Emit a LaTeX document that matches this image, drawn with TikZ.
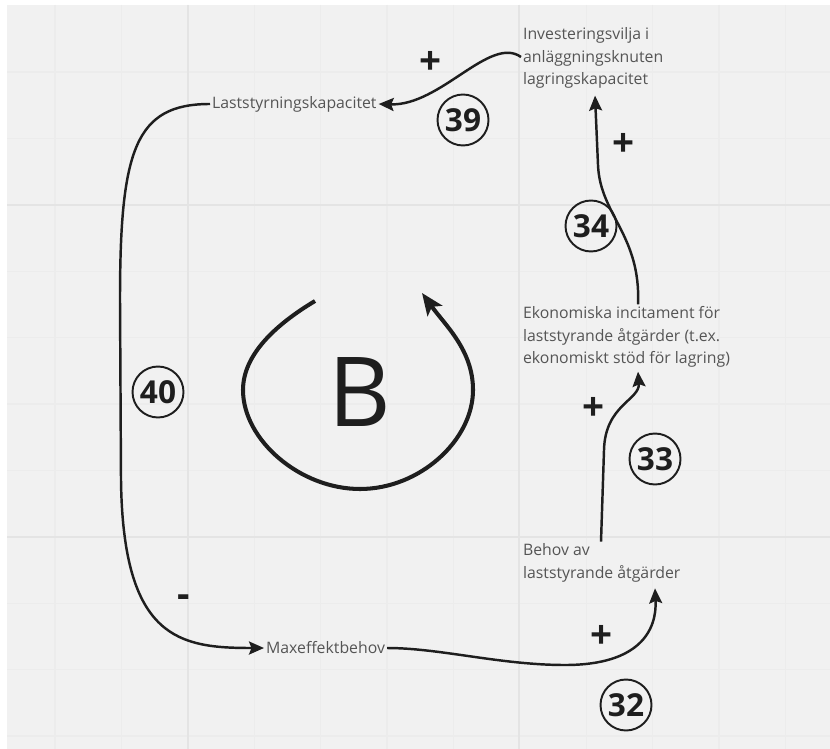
\documentclass[tikz,border=0pt]{standalone}
\usepackage{fontspec}
\setmainfont{Open Sans}
\usetikzlibrary{arrows.meta,calc}
\definecolor{bgcol}{HTML}{F1F1F1}
\definecolor{gridmin}{HTML}{ECECEC}
\definecolor{gridmaj}{HTML}{E4E4E4}
\definecolor{txtcol}{HTML}{555555}
\definecolor{inkcol}{HTML}{1E1E1E}

\begin{document}
\begin{tikzpicture}[x=0.02cm,y=-0.02cm,
  lbl/.style={inner sep=1pt, anchor=west, align=left, text=txtcol, font=\fontsize{9}{12.9}\selectfont},
  link/.style={draw=inkcol, line width=1.4pt, -{Stealth[length=3mm,width=2.6mm,inset=0.5mm]}},
  num/.style={circle, draw=inkcol, line width=1.1pt, minimum size=1.02cm, inner sep=0pt, text=inkcol, font=\fontsize{18}{18}\selectfont\bfseries},
  sign/.style={text=inkcol, font=\fontsize{22}{22}\selectfont\bfseries, inner sep=0pt}]
  \useasboundingbox (0,0) rectangle (830,749);
  \fill[white] (0,0) rectangle (830,749);
  \fill[bgcol] (7,5) rectangle (830,749);
  \foreach \k in {0,...,11}
    \draw[gridmin, line width=0.6pt] ({55+66.4*\k},5) -- ({55+66.4*\k},749);
  \foreach \k in {0,...,10}
    \draw[gridmin, line width=0.6pt] (7,{72+66.4*\k}) -- (830,{72+66.4*\k});
  \draw[gridmaj, line width=0.8pt] (188,5) -- (188,749) (519,5) -- (519,749)
    (7,205) -- (830,205) (7,537) -- (830,537);

  \node[lbl] (lsk) at (210,104) {Laststyrningskapacitet};
  \node[lbl] (inv) at (521,58) {Investeringsvilja i\\anläggningsknuten\\lagringskapacitet};
  \node[lbl] (eko) at (521,337) {Ekonomiska incitament för\\laststyrande åtgärder (t.ex.\\ekonomiskt stöd för lagring)};
  \node[lbl] (beh) at (521,563) {Behov av\\laststyrande åtgärder};
  \node[lbl] (max) at (264,648) {Maxeffektbehov};

  \draw[link] ($(inv.west)+(0,-1)$) .. controls +(-31,-22) and +(62,2) .. (lsk.east);
  \draw[link] (lsk.west) .. controls (135,104) and (120,150) .. (120,300) -- (121,480)
    .. controls (123,640) and (180,648) .. (max.west);
  \draw[link] (max.east) .. controls (440,648) and (500,665) .. (565,665)
    .. controls (640,665) and (657,630) .. ($(beh.south west)+(134,4)$);
  \draw[link] ($(beh.north west)+(80,0)$) -- (604,450) .. controls (605,405) and (640,400) .. ($(eko.south west)+(117,2)$);
  \draw[link] ($(eko.north west)+(117,0)$) .. controls (641,235) and (600,215) .. (598,165) -- ($(inv.south west)+(74,5)$);

  \draw[inkcol, line width=2.3pt, -{Stealth[length=4.4mm,width=3.6mm,inset=1mm]}]
    (315,301) .. controls (275,325) and (243,355) .. (243,390)
    .. controls (243,440) and (300,489) .. (360,489)
    .. controls (420,489) and (473,440) .. (473,390)
    .. controls (473,350) and (445,325) .. (422,293);
  \node[text=inkcol, font=\fontsize{55}{55}\selectfont] (bee) at (360,392) {B};

  \node[num] (n39) at (463,120) {39};
  \node[num] (n40) at (158,392) {40};
  \node[num] (n32) at (626,705) {32};
  \node[num] (n33) at (655,459) {33};
  \node[num] (n34) at (591,226) {34};

  \node[sign] (p39) at (431,63) {+};
  \node[sign] (p34) at (624,145) {+};
  \node[sign] (p33) at (594,409) {+};
  \node[sign] (p32) at (602,637) {+};
  \node[sign] (m40) at (184,601) {-};
\end{tikzpicture}
\end{document}
